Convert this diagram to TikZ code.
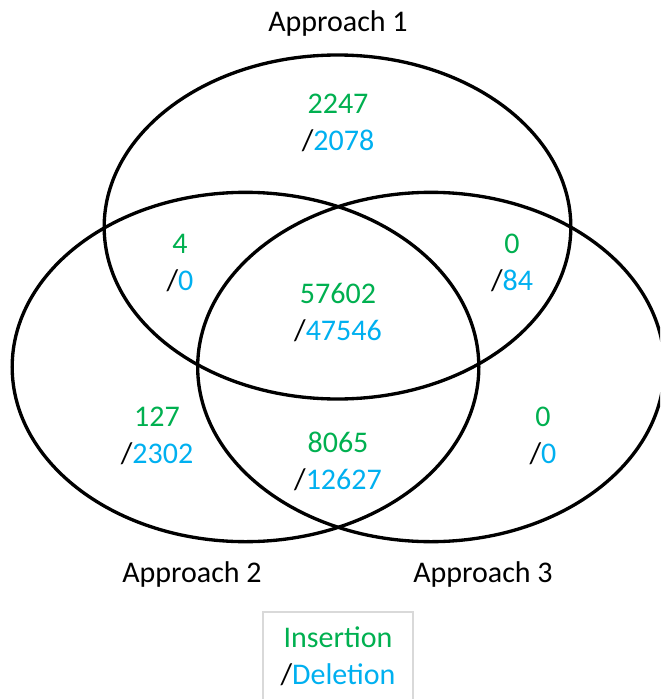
\documentclass[tikz,border=0pt]{standalone}
\usepackage{fontspec}
\setmainfont{Carlito}
\definecolor{ins}{HTML}{00B050}
\definecolor{del}{HTML}{00B0F0}
\definecolor{boxgray}{HTML}{D9D9D9}
\newcommand{\cnt}[2]{{\color{ins}#1}\\{\color{black}/}{\color{del}#2}}
\begin{document}
\begin{tikzpicture}[x=0.75pt,y=-0.75pt,
  venn/.style={draw=black,line width=2.5pt},
  num/.style={align=center,inner sep=0pt,font=\fontsize{22.5}{27.75}\selectfont},
  title/.style={inner sep=0pt,font=\fontsize{22.5}{27.75}\selectfont}]
\useasboundingbox (0,0) rectangle (660,699);
\clip (0,0) rectangle (660,699);
\fill[white] (0,0) rectangle (660,699);
% ellipses
\draw[venn] (337.5,227) ellipse [x radius=175pt, y radius=129pt];
\draw[venn] (245.5,367) ellipse [x radius=175pt, y radius=131pt];
\draw[venn] (431,367) ellipse [x radius=175pt, y radius=131pt];
% titles
\node[title] (t1) at (338,24) {Approach 1};
\node[title] (t2) at (192,574) {Approach 2};
\node[title] (t3) at (483,574) {Approach 3};
% counts
\node[num] (a1) at (338,123) {\cnt{2247}{2078}};
\node[num] (a12) at (180,263) {\cnt{4}{0}};
\node[num] (a13) at (512,263) {\cnt{0}{84}};
\node[num] (a123) at (338,313) {\cnt{57602}{47546}};
\node[num] (a2) at (157,436) {\cnt{127}{2302}};
\node[num] (a23) at (338,461) {\cnt{8065}{12627}};
\node[num] (a3) at (543,436) {\cnt{0}{0}};
% legend
\node[num,draw=boxgray,line width=0.8pt,minimum width=112.5pt,minimum height=66pt] (legend) at (338,656) {\cnt{Insertion}{Deletion}};
\end{tikzpicture}
\end{document}
